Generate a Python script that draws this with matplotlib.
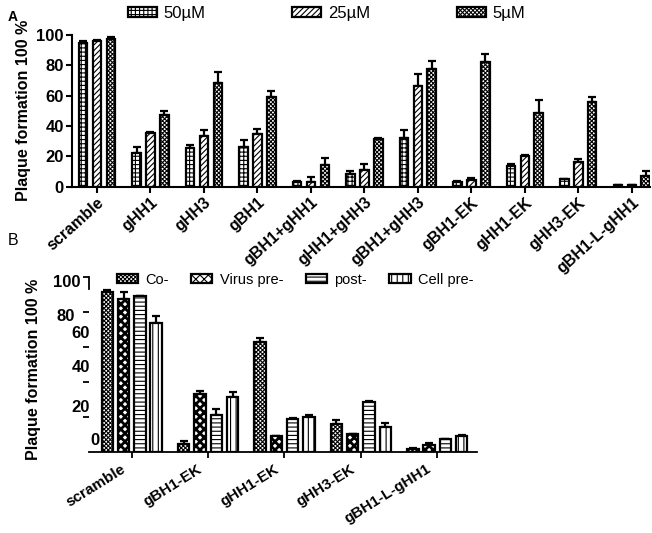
import numpy as np
import matplotlib
matplotlib.use('Agg')
import matplotlib.pyplot as plt
from matplotlib.transforms import blended_transform_factory, ScaledTranslation

plt.rcParams['font.family'] = ['Liberation Sans', 'DejaVu Sans']
plt.rcParams['hatch.linewidth'] = 0.8

# ---- panel A data ----
a_groups = ['scramble', 'gHH1', 'gHH3', 'gBH1', 'gBH1+gHH1', 'gHH1+gHH3',
            'gBH1+gHH3', 'gBH1-EK', 'gHH1-EK', 'gHH3-EK', 'gBH1-L-gHH1']
a_series = ['50µM', '25µM', '5µM']
a_50 = [95, 22, 25.5, 26, 3, 8, 32, 3, 13.5, 4.7, 0.7]
a_50_err = [1, 4, 2.2, 4.6, 0.5, 2.4, 5.2, 0.5, 1.5, 0.5, 0.3]
a_25 = [96, 35.5, 33.7, 34.5, 3.3, 11, 66.5, 4.3, 20, 16.3, 0.9]
a_25_err = [0.7, 0.8, 3.7, 3.7, 3, 4.1, 7.6, 1.5, 0.9, 2.2, 0.3]
a_5 = [97.5, 47.3, 68.5, 59.3, 14, 31.3, 77.5, 82, 48.3, 56, 7.2]
a_5_err = [1.2, 2.6, 7.2, 3.7, 5, 0.8, 5.4, 5.4, 8.7, 3.2, 3]

# ---- panel B data ----
b_groups = ['scramble', 'gBH1-EK', 'gHH1-EK', 'gHH3-EK', 'gBH1-L-gHH1']
b_series = ['Co-', 'Virus pre-', 'post-', 'Cell pre-']
b_co = [91.5, 4.4, 62.9, 16.2, 1.7]
b_co_err = [1, 1.6, 2.5, 1.9, 0.3]
b_virus = [87.6, 33.1, 9, 10.1, 4.2]
b_virus_err = [4, 2, 0.4, 0.3, 1]
b_post = [89, 21.1, 18.7, 28.6, 7.2]
b_post_err = [0.5, 3.6, 0.7, 0.7, 0.5]
b_cell = [74, 31.2, 20, 14.3, 9.1]
b_cell_err = [3.5, 3.1, 1, 2.5, 0.5]
b_ytick_text = ['100', '80', '60', '40', '20', '0']

fig = plt.figure(figsize=(6.52, 5.33), dpi=100)


def draw_bars(ax, x, vals, errs, hatch, width, hlw=0.8):
    bars = ax.bar(x, vals, width=width, color='white', edgecolor='black',
                  linewidth=1.6, hatch=hatch, zorder=2)
    for b in bars:
        if hasattr(b, 'set_hatch_linewidth'):
            b.set_hatch_linewidth(hlw)
    ax.errorbar(x, vals, yerr=[np.zeros(len(errs)), errs], fmt='none',
                ecolor='black', elinewidth=1.6, capsize=3, capthick=1.6, zorder=1)
    return bars


# ---------------- panel A ----------------
axA = fig.add_axes([0.1104, 0.650, 0.8865, 0.284])
xa = np.arange(len(a_groups))
hA = []
for off, vals, errs, h in [(-0.26, a_50, a_50_err, '++++'),
                           (0.0, a_25, a_25_err, '//////'),
                           (0.26, a_5, a_5_err, 'xxxxxxxx')]:
    hA.append(draw_bars(axA, xa + off, vals, errs, h, 0.16))

axA.set_xlim(-0.467, 10.34)
axA.set_ylim(0, 100)
axA.set_yticks([0, 20, 40, 60, 80, 100])
axA.set_xticks(xa)
axA.set_xticklabels(a_groups, rotation=42, ha='right', va='top',
                    rotation_mode='anchor', fontsize=11.5, fontweight='bold')
for t in axA.get_yticklabels():
    t.set_fontsize(12)
    t.set_fontweight('bold')
axA.tick_params(axis='both', width=1.5, length=4, pad=2)
for s in ['top', 'right']:
    axA.spines[s].set_visible(False)
for s in ['left', 'bottom']:
    axA.spines[s].set_linewidth(1.5)
axA.set_ylabel('Plaque formation 100 %', fontsize=11.5, fontweight='bold', labelpad=4)

fig.legend(hA, a_series, loc='upper left', bbox_to_anchor=(0.196, 1 - 6 / 533),
           ncol=3, frameon=False, fontsize=12, handlelength=1.75, handleheight=0.6,
           handletextpad=0.4, columnspacing=5.2, borderpad=0, borderaxespad=0)
fig.text(0.012, 0.982, 'A', fontsize=10, fontweight='bold', va='top')

# ---------------- panel B ----------------
axB = fig.add_axes([0.1365, 0.152, 0.595, 0.328])
xb = np.arange(len(b_groups))
hB = []
for off, vals, errs, h, hlw in [(-0.32, b_co, b_co_err, 'xxxxxxxx', 0.8),
                                (-0.107, b_virus, b_virus_err, 'xxxx', 2.0),
                                (0.107, b_post, b_post_err, '----', 0.8),
                                (0.32, b_cell, b_cell_err, '|||', 0.8)]:
    hB.append(draw_bars(axB, xb + off, vals, errs, h, 0.15, hlw))

axB.set_xlim(-0.56, 4.52)
axB.set_ylim(0, 100)
axB.set_yticks([20, 40, 60, 80, 100])
axB.set_yticklabels([])
axB.set_xticks(xb)
axB.set_xticklabels(b_groups, rotation=32, ha='right', va='top',
                    rotation_mode='anchor', fontsize=11, fontweight='bold')
axB.tick_params(axis='both', width=1.3, length=4, pad=3)
# labels in B sit a little left of their ticks
shift = ScaledTranslation(-0.11, 0, fig.dpi_scale_trans)
for t in axB.get_xticklabels():
    t.set_transform(t.get_transform() + shift)
for s in ['top', 'right']:
    axB.spines[s].set_visible(False)
axB.spines['left'].set_bounds(93, 100)
for s in ['left', 'bottom']:
    axB.spines[s].set_linewidth(1.3)

# tick numbers sit where the original figure put them
trB = blended_transform_factory(axB.transAxes, axB.transData)
lab_x = [-0.023, -0.036, 0.003, 0.003, 0.003, 0.026]
lab_y = [97.1, 77.7, 68, 48.6, 25.7, 6.3]
for txt, lx, ly in zip(b_ytick_text, lab_x, lab_y):
    axB.text(lx, ly, txt, transform=trB, ha='right', va='center',
             fontsize=12, fontweight='bold')
fig.text(0.052, 0.307, 'Plaque formation 100 %', rotation=90, ha='center',
         va='center', fontsize=11.5, fontweight='bold')

fig.legend(hB, b_series, loc='upper left', bbox_to_anchor=(0.179, 1 - 273 / 533),
           ncol=4, frameon=False, fontsize=10.5, handlelength=1.45, handleheight=0.6,
           handletextpad=0.5, columnspacing=1.55, borderpad=0, borderaxespad=0)
fig.text(0.012, 0.548, 'B', fontsize=11.5, va='center')

fig.savefig('out.png', dpi=100)
